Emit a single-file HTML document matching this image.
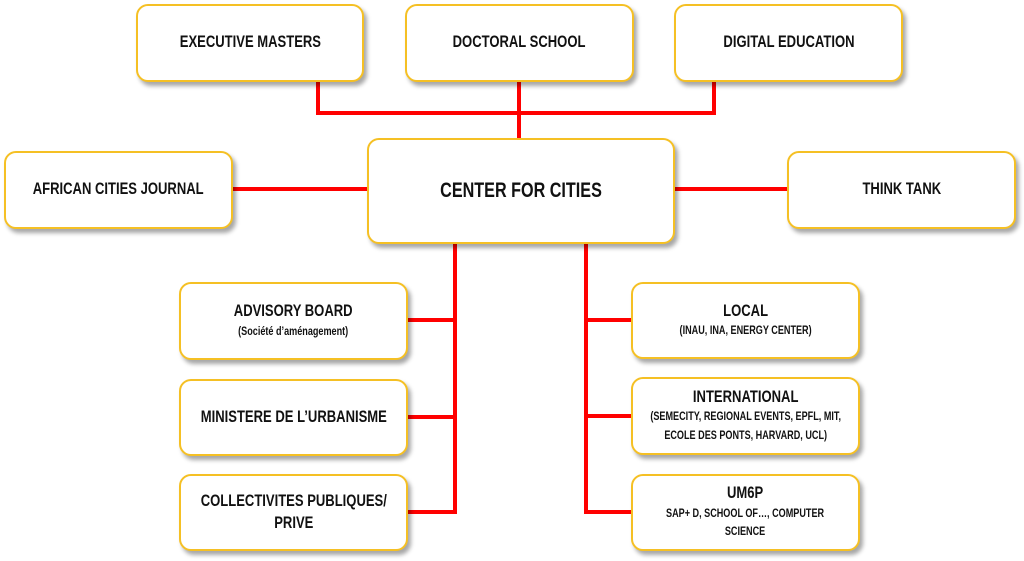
<!DOCTYPE html>
<html><head><meta charset="utf-8"><style>
body{margin:0;width:1024px;height:561px;background:#fff;position:relative;overflow:hidden;font-family:"Liberation Sans",sans-serif;font-weight:bold;color:#111}
.b{position:absolute;box-sizing:border-box;border:2px solid #f5c024;border-radius:12px;background:#fff;box-shadow:3px 4px 4px rgba(0,0,0,.35);display:flex;align-items:center;justify-content:center;text-align:center}
.t{white-space:nowrap;transform:scaleX(.79);font-size:16.5px;line-height:1.3}
.s{font-size:11.5px;line-height:1.6}
.l{position:absolute;background:#f00}
</style></head><body>
<div class="l" style="left:316px;top:81px;width:4px;height:34px"></div>
<div class="l" style="left:517px;top:81px;width:4px;height:58px"></div>
<div class="l" style="left:712px;top:81px;width:4px;height:34px"></div>
<div class="l" style="left:316px;top:111px;width:400px;height:4px"></div>
<div class="l" style="left:232px;top:187px;width:136px;height:4px"></div>
<div class="l" style="left:674px;top:187px;width:114px;height:4px"></div>
<div class="l" style="left:453px;top:243px;width:4px;height:271px"></div>
<div class="l" style="left:407px;top:318px;width:50px;height:4px"></div>
<div class="l" style="left:407px;top:415px;width:50px;height:4px"></div>
<div class="l" style="left:407px;top:510px;width:50px;height:4px"></div>
<div class="l" style="left:584px;top:243px;width:4px;height:271px"></div>
<div class="l" style="left:584px;top:318px;width:48px;height:4px"></div>
<div class="l" style="left:584px;top:414px;width:48px;height:4px"></div>
<div class="l" style="left:584px;top:510px;width:48px;height:4px"></div>

<div class="b" style="left:136px;top:4px;width:228px;height:78px"><div class="t">EXECUTIVE MASTERS</div></div>
<div class="b" style="left:405px;top:4px;width:229px;height:78px"><div class="t">DOCTORAL SCHOOL</div></div>
<div class="b" style="left:674px;top:4px;width:229px;height:78px"><div class="t">DIGITAL EDUCATION</div></div>
<div class="b" style="left:367px;top:138px;width:308px;height:106px"><div class="t" style="font-size:21px;transform:scaleX(.77)">CENTER FOR CITIES</div></div>
<div class="b" style="left:4px;top:151px;width:229px;height:78px"><div class="t">AFRICAN CITIES JOURNAL</div></div>
<div class="b" style="left:787px;top:151px;width:229px;height:78px"><div class="t">THINK TANK</div></div>
<div class="b" style="left:179px;top:282px;width:229px;height:78px"><div class="t">ADVISORY BOARD<div class="s">(Société d’aménagement)</div></div></div>
<div class="b" style="left:179px;top:379px;width:229px;height:77px"><div class="t">MINISTERE DE L’URBANISME</div></div>
<div class="b" style="left:179px;top:474px;width:229px;height:77px"><div class="t">COLLECTIVITES PUBLIQUES/<br>PRIVE</div></div>
<div class="b" style="left:631px;top:282px;width:229px;height:77px"><div class="t">LOCAL<div class="s">(INAU, INA, ENERGY CENTER)</div></div></div>
<div class="b" style="left:631px;top:377px;width:229px;height:78px"><div class="t">INTERNATIONAL<div class="s">(SEMECITY, REGIONAL EVENTS, EPFL, MIT,<br>ECOLE DES PONTS, HARVARD, UCL)</div></div></div>
<div class="b" style="left:631px;top:474px;width:229px;height:77px"><div class="t">UM6P<div class="s">SAP+ D, SCHOOL OF…, COMPUTER<br>SCIENCE</div></div></div>
</body></html>
